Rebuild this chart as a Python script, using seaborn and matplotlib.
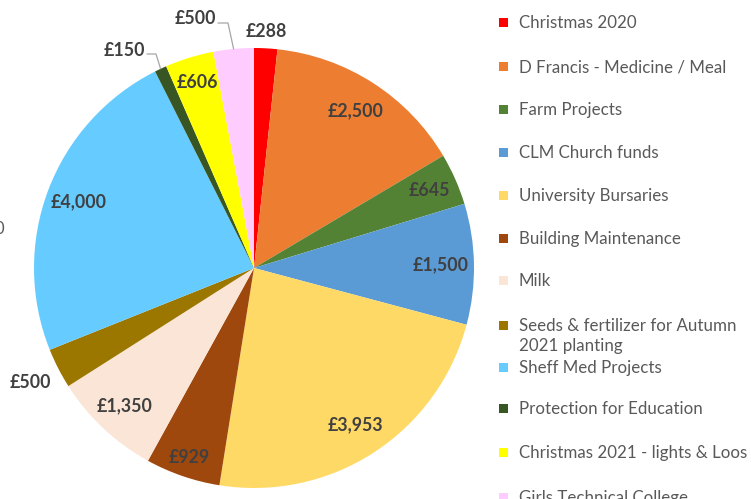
import matplotlib
matplotlib.use("Agg")
import matplotlib.pyplot as plt
from matplotlib.patches import Rectangle
import numpy as np
import seaborn as sns

# donation categories and amounts (GBP)
CATEGORIES = [
    "Christmas 2020",
    "D Francis - Medicine / Meal",
    "Farm Projects",
    "CLM Church funds",
    "University Bursaries",
    "Building Maintenance",
    "Milk",
    "Seeds & fertilizer for Autumn\n2021 planting",
    "Sheff Med Projects",
    "Protection for Education",
    "Christmas 2021 - lights & Loos",
    "Girls Technical College",
]
AMOUNTS = [288, 2500, 645, 1500, 3953, 929, 1350, 500, 4000, 150, 606, 500]
COLORS = [
    "#FF0000", "#ED7D31", "#548235", "#5B9BD5", "#FFD966", "#9E480E",
    "#FBE5D6", "#9C7700", "#66CCFF", "#375623", "#FFFF00", "#FFCCFF",
]

# label distance from centre (fraction of radius); None = label with leader line
LABEL_R = [1.075, 0.85, 0.87, 0.85, 0.85, 0.91, 0.86, 1.14, 0.85, None, 0.88, None]

W, H = 751, 499
CX, CY, R = 254, 268, 220

sns.set_theme(style="white")
plt.rcParams["font.family"] = ["Lato", "DejaVu Sans"]

fig = plt.figure(figsize=(W / 100, H / 100), dpi=100)
fig.patch.set_facecolor("white")

ax = fig.add_axes([(CX - R) / W, (H - CY - R) / H, 2 * R / W, 2 * R / H])
wedges, _ = ax.pie(
    AMOUNTS, colors=COLORS, startangle=90, counterclock=False,
    wedgeprops=dict(linewidth=0),
)
ax.set_xlim(-1, 1)
ax.set_ylim(-1, 1)
ax.set_aspect("equal")
ax.axis("off")

LABEL_COLOR = "#404040"
LINE_COLOR = "#A6A6A6"


def px(x, y):
    # pixel position -> pie data coords
    return (x - CX) / R, (CY - y) / R


# leader-line labels: text right edge, elbow start, elbow end
LEADERS = {
    9: ((145, 50), (147, 54), (156, 54)),
    11: ((216, 19), (218, 23), (228, 23)),
}

for i, (w, amt) in enumerate(zip(wedges, AMOUNTS)):
    mid = np.deg2rad((w.theta1 + w.theta2) / 2)
    txt = f"£{amt:,}"
    if LABEL_R[i] is not None:
        r = LABEL_R[i]
        ax.text(r * np.cos(mid), r * np.sin(mid), txt, ha="center", va="center",
                fontsize=12.8, fontweight="bold", color=LABEL_COLOR)
    else:
        tpos, p0, p1 = LEADERS[i]
        tx, ty = px(*tpos)
        ax.text(tx, ty, txt, ha="right", va="center", fontsize=12.8,
                fontweight="bold", color=LABEL_COLOR)
        x0, y0 = px(*p0)
        x1, y1 = px(*p1)
        ax.plot([x0, x1, np.cos(mid)], [y0, y1, np.sin(mid)], color=LINE_COLOR,
                lw=0.9, clip_on=False)

# legend drawn in pixel space so the wrapped entry keeps Excel's spacing
lax = fig.add_axes([0, 0, 1, 1])
lax.set_xlim(0, W)
lax.set_ylim(H, 0)
lax.axis("off")
lax.patch.set_alpha(0)

ROWS = [22, 66, 109, 152, 195, 238, 280, 325, 367, 408, 452, 497]
for y, name, c in zip(ROWS, CATEGORIES, COLORS):
    lax.add_patch(Rectangle((499, y - 4.5), 9, 9, facecolor=c, edgecolor="none"))
    lax.text(519, y - 7, name, ha="left", va="top", fontsize=12.2,
             color="#595959", linespacing=1.3)

# cut-off remnant at the left edge
lax.text(4, 229, "0", ha="right", va="center", fontsize=12, color="#595959")

fig.savefig("out.png", dpi=100)
